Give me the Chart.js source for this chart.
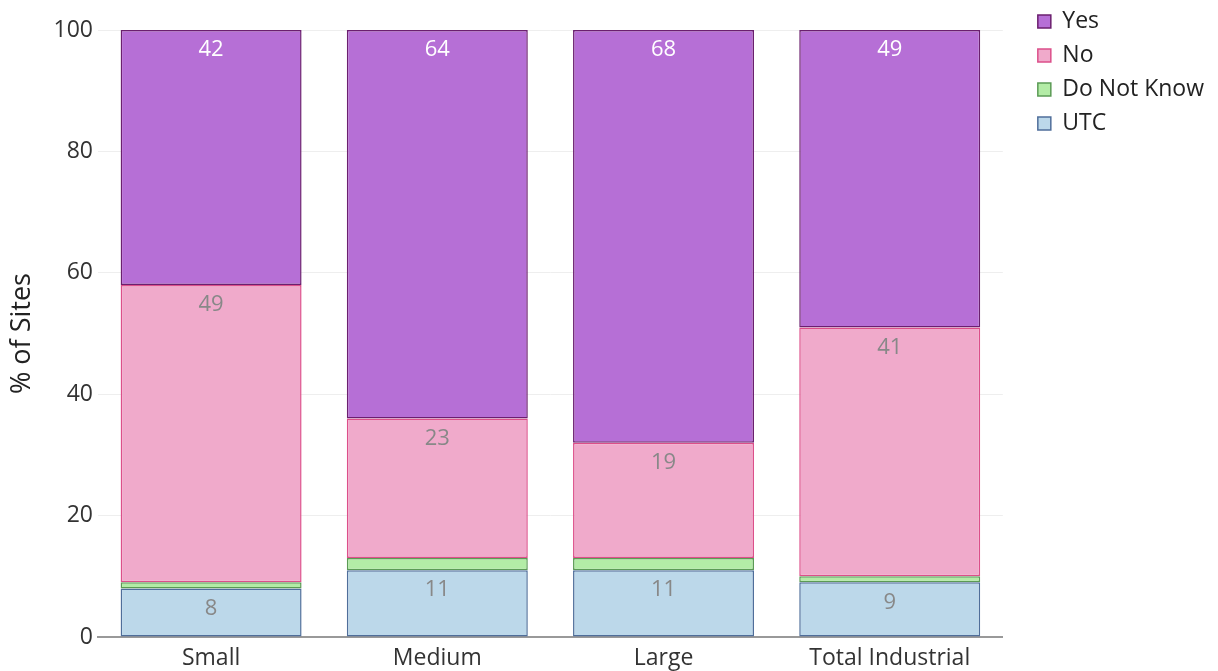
<!DOCTYPE html>
<html>
<head>
<meta charset="utf-8">
<script src="https://cdn.jsdelivr.net/npm/chart.js@4/dist/chart.umd.min.js"></script>
<style>
  html, body { margin: 0; padding: 0; background: #fff; }
  #wrap { width: 1218px; height: 671px; position: relative; }
</style>
</head>
<body>
<div id="wrap"><canvas id="barChart"></canvas></div>
<script>
var categories = ['Small', 'Medium', 'Large', 'Total Industrial'];
var utcValues = [8, 11, 11, 9];
var doNotKnowValues = [1, 2, 2, 1];
var noValues = [49, 23, 19, 41];
var yesValues = [42, 64, 68, 49];
var yTicks = [0, 20, 40, 60, 80, 100];

Chart.defaults.font.family = '"Open Sans", "Noto Sans", sans-serif';
Chart.defaults.color = '#444';

// writes the value near the top of each segment, like plotly's inside text
var segmentLabels = {
    id: 'segmentLabels',
    afterDatasetsDraw: function (chart) {
        var ctx = chart.ctx;
        ctx.save();
        ctx.font = '22px "Open Sans", sans-serif';
        ctx.textAlign = 'center';
        ctx.textBaseline = 'middle';
        chart.data.datasets.forEach(function (ds, i) {
            var meta = chart.getDatasetMeta(i);
            meta.data.forEach(function (bar, j) {
                var v = ds.data[j];
                if (v < 5) return;
                ctx.fillStyle = ds.labelColor;
                ctx.fillText(String(v), bar.x, bar.y + 20);
            });
        });
        ctx.restore();
    }
};

// pull the legend up to the top edge and a bit away from the plot
var legendShift = {
    id: 'legendShift',
    afterLayout: function (chart) {
        var lg = chart.legend;
        var w = lg.right - lg.left, h = lg.bottom - lg.top;
        lg.left = chart.chartArea.right + 24;
        lg.right = lg.left + w;
        lg.top = -1;
        lg.bottom = lg.top + h;
    }
};

var ctx = document.getElementById('barChart').getContext('2d');
new Chart(ctx, {
    type: 'bar',
    data: {
        labels: categories,
        datasets: [
            { label: 'UTC', data: utcValues, backgroundColor: '#bcd8ea', borderColor: '#4f6e9a', labelColor: '#888' },
            { label: 'Do Not Know', data: doNotKnowValues, backgroundColor: '#b3eca6', borderColor: '#5b9a55', labelColor: '#888' },
            { label: 'No', data: noValues, backgroundColor: '#f0aacb', borderColor: '#dc4f8a', labelColor: '#888' },
            { label: 'Yes', data: yesValues, backgroundColor: '#b66fd6', borderColor: '#6b1f6f', labelColor: '#fff' }
        ]
    },
    options: {
        responsive: true,
        maintainAspectRatio: false,
        animation: false,
        datasets: {
            bar: { borderWidth: 1.5, borderSkipped: false, barPercentage: 0.8, categoryPercentage: 1.0 }
        },
        layout: { padding: { top: 30, right: 28, left: 0, bottom: 0 } },
        plugins: {
            legend: {
                position: 'right',
                align: 'start',
                reverse: true,
                labels: {
                    boxWidth: 13,
                    boxHeight: 13,
                    padding: 11,
                    color: '#222',
                    font: { size: 23 },
                    generateLabels: function (chart) {
                        return chart.data.datasets.map(function (ds, i) {
                            return {
                                text: ds.label,
                                fillStyle: ds.backgroundColor,
                                strokeStyle: ds.borderColor,
                                lineWidth: 1.5,
                                datasetIndex: i,
                                fontColor: '#222'
                            };
                        });
                    }
                }
            },
            tooltip: { enabled: false }
        },
        scales: {
            x: {
                stacked: true,
                grid: { display: false },
                border: { display: true, color: '#999', width: 2 },
                ticks: { font: { size: 23 }, color: '#333', padding: 0 },
                afterFit: function (axis) { axis.height = 34; }
            },
            y: {
                stacked: true,
                min: 0,
                max: 100,
                afterBuildTicks: function (axis) {
                    axis.ticks = yTicks.map(function (v) { return { value: v }; });
                },
                afterFit: function (axis) { axis.width = 98; },
                grid: { color: '#eeeeee', drawTicks: false },
                border: { display: false },
                ticks: { font: { size: 23 }, color: '#333', padding: 5 },
                title: { display: true, text: '% of Sites', font: { size: 27 }, color: '#222', padding: 6 }
            }
        }
    },
    plugins: [segmentLabels, legendShift]
});
</script>
</body>
</html>
